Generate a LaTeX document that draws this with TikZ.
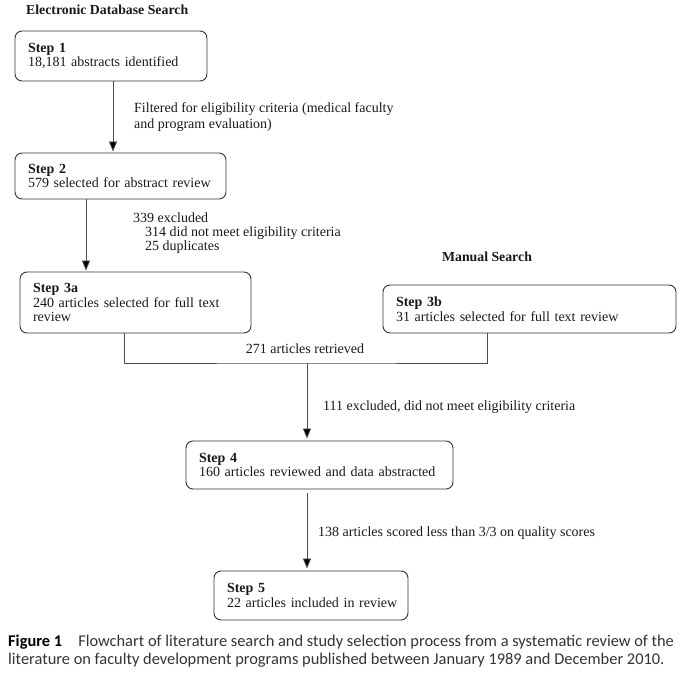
\documentclass[tikz,border=0pt]{standalone}
\usepackage{fontspec}
\setmainfont{Liberation Serif}
\newfontfamily\capfont{Carlito}
\usetikzlibrary{arrows.meta,calc}
\begin{document}
\begin{tikzpicture}[x=1pt,y=-1pt,
  every node/.style={font=\fontsize{14}{14.5}\selectfont, text=black!90},
  box/.style={draw=black!80, line width=0.9pt, rounded corners=7pt, inner xsep=13pt, inner ysep=0pt, align=left},
  lbl/.style={anchor=base west, inner sep=0pt, align=left},
  hdr/.style={anchor=base, inner sep=0pt, font=\fontsize{13.8}{14.5}\selectfont\bfseries},
  conn/.style={draw=black!70, line width=0.8pt},
  arr/.style={conn, -{Triangle[width=8pt,length=10pt,fill=black]}}
]
\useasboundingbox (0,0) rectangle (683,676);
% headers
\node[hdr, anchor=base west] (h1) at (26,15) {Electronic Database Search};
\node[hdr] (h2) at (487,262) {Manual Search};
% boxes
\node[box, minimum width=192pt, minimum height=50pt, text width=166pt] (s1) at (111,56) {\mbox{\textbf{Step 1}}\\\mbox{18,181 abstracts identified}};
\node[box, minimum width=211pt, minimum height=46pt, text width=185pt] (s2) at (120.5,176) {\mbox{\textbf{Step 2}}\\\mbox{579 selected for abstract review}};
\node[box, minimum width=231pt, minimum height=61pt, text width=205pt] (s3a) at (135.5,302.5) {\mbox{\textbf{Step 3a}}\\\mbox{240 articles selected for full text}\\\mbox{review}};
\node[box, minimum width=293pt, minimum height=48pt, text width=267pt] (s3b) at (529.5,309) {\mbox{\textbf{Step 3b}}\\\mbox{31 articles selected for full text review}};
\node[box, minimum width=267pt, minimum height=48pt, text width=241pt] (s4) at (319.5,465) {\mbox{\textbf{Step 4}}\\\mbox{160 articles reviewed and data abstracted}};
\node[box, minimum width=194pt, minimum height=49pt, text width=168pt] (s5) at (311,595.5) {\mbox{\textbf{Step 5}}\\\mbox{22 articles included in review}};
% coordinates
\coordinate (a1) at (113,0);
\coordinate (a2) at (86,0);
\coordinate (cl) at (124,0);
\coordinate (cr) at (487,0);
\coordinate (j) at (307,363);
% connectors
\draw[arr] (s1.south -| a1) -- ($(s2.north -| a1)+(0,-1)$);
\draw[arr] (s2.south -| a2) -- ($(s3a.north -| a2)+(0,-1)$);
\draw[conn] (s3a.south -| cl) |- (j) -| (s3b.south -| cr);
\draw[arr] (j) -- ($(s4.north -| j)+(0,-2)$);
\draw[arr] ($(s4.south -| j)+(0,4)$) -- ($(s5.north -| j)+(0,-2)$);
% labels
\node[lbl, font=\fontsize{14}{16}\selectfont] (l1) at (134,128.3) {Filtered for eligibility criteria (medical faculty\\and program evaluation)};
\node[lbl] (l2a) at (133,222.5) {339 excluded};
\node[lbl, font=\fontsize{14}{14}\selectfont] (l2b) at (145,250.5) {314 did not meet eligibility criteria\\25 duplicates};
\node[lbl, anchor=base] (l3) at (305,354) {271 articles retrieved};
\node[lbl] (l4) at (323,410.5) {111 excluded, did not meet eligibility criteria};
\node[lbl] (l5) at (318,536.5) {138 articles scored less than 3/3 on quality scores};
% caption
\node[lbl, font=\capfont\fontsize{16.4}{17.6}\selectfont, text=black!80] (cap) at (8,664) {\textbf{\color{black}Figure 1}\hspace{16pt}Flowchart of literature search and study selection process from a systematic review of the\\literature on faculty development programs published between January 1989 and December 2010.};
\end{tikzpicture}
\end{document}
